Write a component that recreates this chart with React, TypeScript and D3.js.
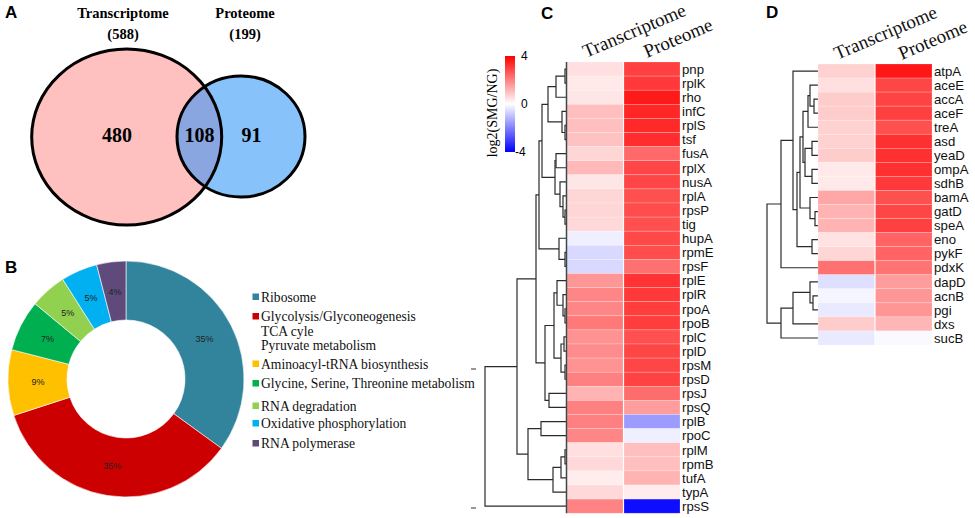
import React from "react";
import * as d3 from "d3";

// ---------- Panel A data ----------
const vennLabels = ["Transcriptome", "Proteome"];
const vennTotals = [588, 199];
const vennRegionCounts = [480, 108, 91];

// ---------- Panel B data ----------
const pathwayNames = [
  "Ribosome",
  "Glycolysis/Glyconeogenesis|TCA cyle|Pyruvate metabolism",
  "Aminoacyl-tRNA biosynthesis",
  "Glycine, Serine, Threonine metabolism",
  "RNA degradation",
  "Oxidative phosphorylation",
  "RNA polymerase",
];
const pathwayPercents = [35, 35, 9, 7, 5, 5, 4];
const pathwayColors = ["#31849b", "#cc0000", "#ffc000", "#00b050", "#92d050", "#00b0f0", "#604a7b"];

// ---------- Panel C data ----------
const heatColumns = ["Transcriptome", "Proteome"];
const legendTicks = [4, 0, -4];
const genesC = ["pnp","rplK","rho","infC","rplS","tsf","fusA","rplX","nusA","rplA","rpsP","tig","hupA","rpmE","rpsF","rplE","rplR","rpoA","rpoB","rplC","rplD","rpsM","rpsD","rpsJ","rpsQ","rplB","rpoC","rplM","rpmB","tufA","typA","rpsS"];
const transcriptomeC = [0.5,0.35,0.4,1.0,1.0,0.95,0.65,1.1,0.4,0.65,0.65,0.6,-0.25,-0.6,-0.6,1.65,1.9,1.9,2.1,1.7,1.8,1.7,2.0,1.2,2.0,2.0,1.9,0.5,0.6,0.3,0.6,1.95];
const proteomeC = [3.0,3.1,3.6,3.4,3.35,3.3,2.35,2.9,2.9,2.75,2.8,2.75,2.85,2.8,2.25,3.2,3.1,3.05,3.05,2.75,2.9,2.9,2.95,2.3,1.55,-1.55,-0.25,1.0,1.0,1.2,0.3,-3.8];
// merges: [childA, childB, height]; strings are genes, numbers refer to earlier merges
const mergesC: [string | number, string | number, number][] = [
  ["pnp","rplK",2],[0,"rho",11],["rplS","tsf",2],["infC",2,5],[1,3,19],
  ["fusA","rplX",11],["rpsP","tig",2],["rplA",6,4],["nusA",7,7],[5,8,12],
  [4,9,25],["rpmE","rpsF",2],["hupA",11,8],[10,12,28],
  ["rpoA","rpoB",2],["rplR",14,4],["rplE",15,10],["rplC","rplD",3],["rpsM","rpsD",2],[17,18,6],
  [16,19,13],["rpsJ","rpsQ",18],[20,21,22],[13,22,31],
  ["rplB","rpoC",26],["rplM","rpmB",2],[25,"tufA",6],[26,"typA",14],[24,27,39],
  [23,28,50],[29,"rpsS",82],
];

// ---------- Panel D data ----------
const genesD = ["atpA","aceE","accA","aceF","treA","asd","yeaD","ompA","sdhB","bamA","gatD","speA","eno","pykF","pdxK","dapD","acnB","pgi","dxs","sucB"];
const transcriptomeD = [0.7,0.5,0.8,0.8,0.7,0.7,0.8,0.35,0.35,1.4,1.2,1.2,0.45,0.65,2.25,-0.5,-0.15,-0.35,0.8,-0.35];
const proteomeD = [3.65,2.9,2.95,3.0,2.75,3.25,3.25,3.25,3.1,2.75,2.9,3.0,2.45,2.45,2.2,1.55,1.65,1.65,1.15,-0.1];
const mergesD: [string | number, string | number, number][] = [
  ["accA","aceF",4],["aceE",0,8],[1,"treA",10],["asd","yeaD",6],["ompA","sdhB",6],[3,4,13],
  [2,5,15],["gatD","speA",3],["bamA",7,8],[6,8,18],["eno","pykF",6],[9,10,21],
  ["atpA",11,25],[12,"pdxK",37],["acnB","pgi",5],["dapD",14,8],[15,"dxs",25],[16,"sucB",37],
  [13,17,51],
];

const color = d3.scaleLinear<string>().domain([-4, 0, 4]).range(["#0000ff", "#ffffff", "#ff0000"]).clamp(true);

const SERIF = "'Liberation Serif', 'Times New Roman', serif";
const SANS = "'Liberation Sans', Arial, sans-serif";

function Dendrogram({ genes, merges, edgeX, rootX, y }: any) {
  const maxH = merges[merges.length - 1][2];
  const x = d3.scaleLinear().domain([0, maxH]).range([edgeX, rootX]);
  const nodes: { y: number; h: number }[] = [];
  const get = (c: string | number) =>
    typeof c === "string" ? { y: y(genes.indexOf(c)), h: 0 } : nodes[c];
  const segs: string[] = [];
  merges.forEach(([a, b, h]: any) => {
    const na = get(a), nb = get(b);
    const xm = x(h);
    segs.push(`M${x(na.h)},${na.y}H${xm}V${nb.y}H${x(nb.h)}`);
    nodes.push({ y: (na.y + nb.y) / 2, h });
  });
  return (
    <g>
      {segs.map((d, i) => (
        <path key={i} d={d} fill="none" stroke="#2b2b2b" strokeWidth={1.2} />
      ))}
    </g>
  );
}

function Heatmap({ genes, cols, x0, y0, rowH, colW, merges, rootX, edgeLine, headerOffsets }: any) {
  const y = (i: number) => y0 + (i + 0.5) * rowH;
  const xs = [x0, x0 + colW + 1];
  return (
    <g>
      <Dendrogram genes={genes} merges={merges} edgeX={x0} rootX={rootX} y={y} />
      {cols.map((vals: number[], ci: number) =>
        vals.map((v, ri) => (
          <rect key={ci + "-" + ri} x={xs[ci]} y={y0 + ri * rowH} width={colW} height={rowH}
            fill={color(v)} stroke="#ffffff" strokeOpacity={0.35} strokeWidth={0.6} />
        ))
      )}
      {edgeLine && (
        <line x1={x0 - 0.5} x2={x0 - 0.5} y1={y0} y2={y0 + genes.length * rowH} stroke="#3a4a4a" strokeWidth={1.5} />
      )}
      {genes.map((g: string, i: number) => (
        <text key={g} x={xs[1] + colW + 2} y={y(i)} dy="0.36em" fontFamily={SANS} fontSize={13.2} fill="#111">
          {g}
        </text>
      ))}
      {heatColumns.map((c, i) => (
        <text key={c} transform={`translate(${xs[i] + colW / 2 + headerOffsets[i]},${y0 - 4}) rotate(-23)`}
          fontFamily={SERIF} fontSize={19} fill="#111">
          {c}
        </text>
      ))}
    </g>
  );
}

export default function App() {
  // Panel A geometry
  const big = { cx: 126.7, cy: 137, rx: 95, ry: 88 };
  const small = { cx: 241, cy: 136.5, rx: 64, ry: 60.5 };

  // Panel B
  const pie = d3.pie<number>().sort(null).value((d) => d)(pathwayPercents);
  const arc = d3.arc<d3.PieArcDatum<number>>().innerRadius(59).outerRadius(118);
  const labelArc = d3.arc<d3.PieArcDatum<number>>().innerRadius(88).outerRadius(88);

  // C legend gradient
  const legendScale = d3.scaleLinear().domain([4, -4]).range([56, 152]);

  return (
    <svg width={975} height={518} style={{ position: "absolute", left: 0, top: 0, background: "#fff" }}>
      {/* Panel labels */}
      <text x={5} y={18} fontFamily={SANS} fontWeight="bold" fontSize={17}>A</text>
      <text x={5} y={273} fontFamily={SANS} fontWeight="bold" fontSize={17}>B</text>
      <text x={541} y={19} fontFamily={SANS} fontWeight="bold" fontSize={17}>C</text>
      <text x={766} y={18} fontFamily={SANS} fontWeight="bold" fontSize={17}>D</text>

      {/* Panel A Venn */}
      <defs>
        <clipPath id="bigclip">
          <ellipse cx={big.cx} cy={big.cy} rx={big.rx} ry={big.ry} />
        </clipPath>
        <linearGradient id="lg" x1="0" y1="0" x2="0" y2="1">
          <stop offset="0%" stopColor={color(4)} />
          <stop offset="50%" stopColor={color(0)} />
          <stop offset="100%" stopColor={color(-4)} />
        </linearGradient>
      </defs>
      <ellipse cx={big.cx} cy={big.cy} rx={big.rx} ry={big.ry} fill="#ffc0c0" />
      <ellipse cx={small.cx} cy={small.cy} rx={small.rx} ry={small.ry} fill="#88c2fb" />
      <ellipse cx={small.cx} cy={small.cy} rx={small.rx} ry={small.ry} fill="#8aa6e0" clipPath="url(#bigclip)" />
      <ellipse cx={big.cx} cy={big.cy} rx={big.rx} ry={big.ry} fill="none" stroke="#000" strokeWidth={3} />
      <ellipse cx={small.cx} cy={small.cy} rx={small.rx} ry={small.ry} fill="none" stroke="#000" strokeWidth={3} />
      {vennLabels.map((l, i) => (
        <g key={l} fontFamily={SERIF} fontWeight="bold" fontSize={14.5} textAnchor="middle">
          <text x={[123, 245][i]} y={18}>{l}</text>
          <text x={[123, 245][i]} y={39}>({vennTotals[i]})</text>
        </g>
      ))}
      {vennRegionCounts.map((c, i) => (
        <text key={i} x={[117, 199.5, 251.5][i]} y={135} dy="0.35em" textAnchor="middle"
          fontFamily={SERIF} fontWeight="bold" fontSize={20}>
          {c}
        </text>
      ))}

      {/* Panel B donut */}
      <g transform="translate(126,379)">
        {pie.map((p, i) => (
          <path key={i} d={arc(p) || ""} fill={pathwayColors[i]} stroke="#fff" strokeWidth={0.6} />
        ))}
        {pie.map((p, i) => {
          const [lx, ly] = labelArc.centroid(p);
          return (
            <text key={i} x={lx} y={ly} dy="0.35em" textAnchor="middle" fontFamily={SANS} fontSize={9} fill="#222">
              {pathwayPercents[i]}%
            </text>
          );
        })}
      </g>
      {pathwayNames.map((n, i) => {
        const lines = n.split("|");
        const yy = [297, 316.5, 364, 383.5, 406, 423.5, 443.5][i];
        return (
          <g key={i}>
            <rect x={252.5} y={yy - 3.5} width={6.5} height={6.5} fill={pathwayColors[i]} />
            {lines.map((t, j) => (
              <text key={j} x={261} y={yy + j * 14.3} dy="0.35em" fontFamily={SERIF} fontSize={13.6} fill="#111">
                {t}
              </text>
            ))}
          </g>
        );
      })}

      {/* Panel C */}
      <text transform="translate(497,113) rotate(-90)" textAnchor="middle" fontFamily={SERIF} fontSize={14}>
        log2(SMG/NG)
      </text>
      <rect x={505} y={56} width={10} height={96} fill="url(#lg)" />
      {legendTicks.map((t) => (
        <text key={t} x={t < 0 ? 515 : 521} y={legendScale(t)} dy="0.35em" fontFamily={SANS} fontSize={12}>
          {t}
        </text>
      ))}
      <line x1={471} x2={476} y1={369} y2={369} stroke="#333" strokeWidth={1} />
      <line x1={471} x2={476} y1={508} y2={508} stroke="#333" strokeWidth={1} />
      <Heatmap genes={genesC} cols={[transcriptomeC, proteomeC]} x0={567} y0={62} rowH={14.1} colW={56}
        merges={mergesC} rootX={485} edgeLine={true} headerOffsets={[-9, -5]} />

      {/* Panel D */}
      <Heatmap genes={genesD} cols={[transcriptomeD, proteomeD]} x0={818} y0={64} rowH={14.05} colW={56.5}
        merges={mergesD} rootX={767} edgeLine={false} headerOffsets={[-9, -2]} />
    </svg>
  );
}
